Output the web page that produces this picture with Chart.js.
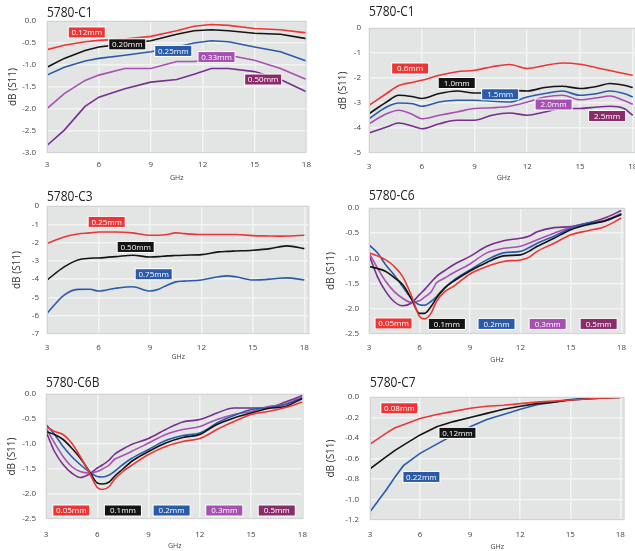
<!DOCTYPE html>
<html>
<head>
<meta charset="utf-8">
<script src="https://cdn.jsdelivr.net/npm/chart.js@4.4.1/dist/chart.umd.min.js"></script>
<style>
html,body{margin:0;padding:0;background:#fff;overflow:hidden;width:635px;height:551px;}
canvas{position:absolute;}
</style>
</head>
<body>
<canvas id="p1" width="318" height="185" style="left:0;top:0"></canvas>
<canvas id="p2" width="332" height="185" style="left:318px;top:0"></canvas>
<canvas id="p3" width="318" height="180" style="left:0;top:185px"></canvas>
<canvas id="p4" width="317" height="180" style="left:318px;top:185px"></canvas>
<canvas id="p5" width="318" height="186" style="left:0;top:365px"></canvas>
<canvas id="p6" width="317" height="186" style="left:318px;top:365px"></canvas>
<script>
// x ticks (GHz) shared by all panels
const xTicks = [3, 6, 9, 12, 15, 18];

// 5780-C1 (left)
const c1Freq = [3, 4, 5.2, 6, 7.5, 9, 10.5, 11.5, 12.5, 13.5, 15, 16.5, 18];
const c1_012 = [-0.65, -0.55, -0.47, -0.44, -0.41, -0.35, -0.22, -0.12, -0.08, -0.1, -0.17, -0.2, -0.27];
const c1_020 = [-1.05, -0.85, -0.67, -0.59, -0.52, -0.45, -0.3, -0.22, -0.2, -0.22, -0.28, -0.3, -0.4];
const c1_025 = [-1.23, -1.05, -0.91, -0.85, -0.78, -0.7, -0.59, -0.5, -0.45, -0.47, -0.59, -0.7, -0.91];
const c1_033 = [-1.99, -1.65, -1.35, -1.23, -1.08, -1.08, -0.92, -0.92, -0.88, -0.78, -0.89, -1.08, -1.33];
const c1_050 = [-2.83, -2.48, -1.94, -1.73, -1.54, -1.39, -1.33, -1.21, -1.08, -1.08, -1.15, -1.33, -1.61];
const c1Ticks = [0, -0.5, -1, -1.5, -2, -2.5, -3];

// 5780-C1 (right)
const c1bFreq = [3, 4, 4.7, 5.5, 6, 7, 8, 9, 10, 11, 12, 13, 14, 15, 16, 16.7, 17.5, 18];
const c1b_06 = [-3.09, -2.62, -2.3, -2.17, -2.09, -1.89, -1.75, -1.69, -1.55, -1.46, -1.62, -1.5, -1.4, -1.45, -1.6, -1.7, -1.82, -1.89];
const c1b_10 = [-3.43, -2.96, -2.69, -2.75, -2.82, -2.62, -2.52, -2.6, -2.6, -2.49, -2.52, -2.38, -2.33, -2.42, -2.33, -2.22, -2.29, -2.38];
const c1b_15 = [-3.63, -3.16, -3.0, -3.03, -3.13, -2.96, -2.89, -2.89, -2.93, -2.96, -2.76, -2.62, -2.52, -2.69, -2.62, -2.52, -2.62, -2.76];
const c1b_20 = [-3.83, -3.43, -3.29, -3.47, -3.63, -3.49, -3.36, -3.22, -3.19, -3.13, -2.96, -2.76, -2.69, -2.87, -2.79, -2.72, -2.9, -3.05];
const c1b_25 = [-4.2, -3.96, -3.8, -3.93, -4.03, -3.83, -3.69, -3.69, -3.49, -3.4, -3.49, -3.36, -3.22, -3.22, -3.16, -3.13, -3.22, -3.49];
const c1bTicks = [0, -1, -2, -3, -4, -5];

// 5780-C3
const c3Freq = [3, 4, 4.8, 5.5, 6, 7, 8, 9, 9.5, 10, 10.5, 11, 12, 13, 13.5, 14, 15, 16, 16.5, 17, 18];
const c3_025 = [-2.05, -1.69, -1.53, -1.47, -1.42, -1.42, -1.47, -1.6, -1.6, -1.56, -1.47, -1.51, -1.56, -1.56, -1.56, -1.56, -1.62, -1.64, -1.65, -1.64, -1.6];
const c3_050 = [-4.05, -3.33, -2.95, -2.86, -2.84, -2.77, -2.69, -2.79, -2.77, -2.73, -2.71, -2.69, -2.66, -2.51, -2.48, -2.46, -2.42, -2.33, -2.24, -2.18, -2.33];
const c3_075 = [-5.87, -4.87, -4.56, -4.55, -4.65, -4.5, -4.42, -4.65, -4.55, -4.33, -4.15, -4.11, -4.05, -3.87, -3.82, -3.87, -4.05, -4.0, -3.95, -3.93, -4.05];
const c3Ticks = [0, -1, -2, -3, -4, -5, -6, -7];

// 5780-C6
const c6Freq = [3, 3.5, 4, 4.5, 5, 5.5, 6, 6.3, 6.7, 7, 7.5, 8, 9, 10, 11, 12, 12.5, 13, 14, 15, 16, 17, 18];
const c6_005 = [-0.89, -0.95, -1.03, -1.16, -1.36, -1.72, -2.15, -2.2, -2.08, -1.86, -1.66, -1.56, -1.31, -1.16, -1.06, -1.03, -0.98, -0.86, -0.7, -0.53, -0.45, -0.37, -0.2];
const c6_01 = [-1.16, -1.2, -1.26, -1.38, -1.52, -1.79, -2.09, -2.09, -1.95, -1.79, -1.59, -1.46, -1.25, -1.08, -0.95, -0.93, -0.86, -0.76, -0.6, -0.43, -0.33, -0.26, -0.13];
const c6_02 = [-0.73, -0.89, -1.13, -1.33, -1.56, -1.79, -1.92, -1.93, -1.85, -1.76, -1.58, -1.44, -1.23, -1.03, -0.89, -0.86, -0.79, -0.7, -0.56, -0.4, -0.3, -0.26, -0.12];
const c6_03 = [-0.89, -1.19, -1.46, -1.66, -1.79, -1.87, -1.84, -1.77, -1.66, -1.49, -1.39, -1.29, -1.11, -0.89, -0.8, -0.76, -0.7, -0.63, -0.5, -0.38, -0.3, -0.25, -0.11];
const c6_05 = [-0.93, -1.36, -1.66, -1.86, -1.94, -1.89, -1.72, -1.62, -1.47, -1.36, -1.24, -1.13, -0.96, -0.76, -0.65, -0.6, -0.56, -0.47, -0.39, -0.37, -0.3, -0.2, -0.05];
const c6Ticks = [0, -0.5, -1, -1.5, -2, -2.5];

// 5780-C6B
const c6bFreq = [3, 3.5, 4, 4.5, 5, 5.5, 6, 6.3, 6.7, 7, 7.5, 8, 9, 10, 11, 12, 12.5, 13, 14, 15, 16, 17, 18];
const c6b_005 = [-0.65, -0.75, -0.81, -0.98, -1.25, -1.55, -1.87, -1.91, -1.85, -1.71, -1.55, -1.43, -1.21, -1.05, -0.95, -0.89, -0.81, -0.71, -0.55, -0.41, -0.35, -0.27, -0.16];
const c6b_01 = [-0.75, -0.81, -0.91, -1.08, -1.28, -1.53, -1.78, -1.8, -1.76, -1.65, -1.5, -1.35, -1.15, -0.98, -0.87, -0.81, -0.71, -0.61, -0.48, -0.38, -0.29, -0.25, -0.09];
const c6b_02 = [-0.61, -0.81, -1.05, -1.25, -1.41, -1.55, -1.65, -1.66, -1.62, -1.55, -1.41, -1.29, -1.11, -0.93, -0.83, -0.78, -0.69, -0.58, -0.43, -0.31, -0.28, -0.21, -0.08];
const c6b_03 = [-0.68, -0.98, -1.25, -1.45, -1.55, -1.58, -1.55, -1.5, -1.42, -1.31, -1.23, -1.15, -0.98, -0.81, -0.71, -0.65, -0.58, -0.51, -0.41, -0.35, -0.25, -0.2, -0.05];
const c6b_05 = [-0.75, -1.15, -1.41, -1.58, -1.67, -1.61, -1.48, -1.42, -1.32, -1.21, -1.1, -1.01, -0.89, -0.71, -0.56, -0.51, -0.45, -0.38, -0.28, -0.28, -0.27, -0.16, -0.03];
const c6bTicks = [0, -0.5, -1, -1.5, -2, -2.5];

// 5780-C7
const c7Freq = [3, 4, 4.5, 5, 6, 7, 8, 9, 10, 11, 12, 13, 14, 15, 16, 17, 18];
const c7_008 = [-0.46, -0.35, -0.3, -0.27, -0.21, -0.17, -0.14, -0.11, -0.09, -0.08, -0.065, -0.05, -0.04, -0.03, -0.02, -0.01, -0.005];
const c7_012 = [-0.7, -0.58, -0.52, -0.47, -0.37, -0.29, -0.24, -0.2, -0.16, -0.12, -0.09, -0.065, -0.05, -0.03, -0.02, -0.01, -0.005];
const c7_022 = [-1.12, -0.9, -0.78, -0.67, -0.55, -0.46, -0.37, -0.29, -0.22, -0.17, -0.12, -0.075, -0.05, -0.025, -0.01, -0.005, 0];
const c7Ticks = [0, -0.2, -0.4, -0.6, -0.8, -1.0, -1.2];

const RED = '#ee3535', BLACK = '#141414', BLUE = '#2b5ba8', LILAC = '#a650b2', PURPLE = '#772e8c', PLUM = '#8b2c6a';

const panelDeco = {
	id: 'panelDeco',
	beforeDraw(chart, args, opts){
		let a = chart.chartArea, ctx = chart.ctx;
		ctx.save();
		ctx.fillStyle = '#e3e5e5';
		ctx.fillRect(a.left, a.top, a.right - a.left, a.bottom - a.top);
		ctx.restore();
	},
	afterDraw(chart, args, opts){
		let ctx = chart.ctx, a = chart.chartArea;
		let xs = chart.scales.x, ys = chart.scales.y;
		ctx.save();
		ctx.strokeStyle = '#d2d4d4';
		ctx.lineWidth = 1;
		ctx.strokeRect(a.left + 0.5, a.top + 0.5, a.right - a.left - 1, a.bottom - a.top - 1);
		// condensed panel title
		ctx.save();
		ctx.translate(a.left, opts.titleY);
		ctx.scale(0.8, 1);
		ctx.font = '15px "Open Sans"';
		ctx.fillStyle = '#222';
		ctx.textAlign = 'left';
		ctx.textBaseline = 'alphabetic';
		ctx.fillText(opts.title, 0, 0);
		ctx.restore();
		ctx.font = '8px "Open Sans"';
		ctx.textAlign = 'center';
		ctx.textBaseline = 'middle';
		opts.tags.forEach(function(t){
			let px = xs.getPixelForValue(t.x), py = ys.getPixelForValue(t.y);
			ctx.fillStyle = '#fff';
			ctx.fillRect(px - 19, py - 6, 38, 12);
			ctx.fillStyle = t.c;
			ctx.fillRect(px - 18, py - 5, 36, 10);
			ctx.fillStyle = '#fff';
			ctx.fillText(t.t, px, py + 0.5);
		});
		ctx.restore();
	}
};

function makePanel(p){
	let canvas = document.getElementById(p.id);
	let W = canvas.width, H = canvas.height;
	let datasets = [];
	for(let i = 0; i < p.series.length; i++){
		let s = p.series[i];
		let pts = [];
		for(let j = 0; j < p.freq.length; j++){
			pts.push({x: p.freq[j], y: s.data[j]});
		}
		datasets.push({
			label: s.name,
			data: pts,
			borderColor: s.color,
			borderWidth: 1.6,
			pointRadius: 0,
			tension: p.smooth ? 0.4 : 0,
			cubicInterpolationMode: p.smooth ? 'monotone' : 'default'
		});
	}
	let tickFont = {family: 'Open Sans', size: 8};
	new Chart(canvas, {
		type: 'line',
		data: {datasets: datasets},
		options: {
			responsive: false,
			animation: false,
			layout: {padding: {left: 0, top: p.area[1], right: W - p.area[2], bottom: 0}},
			plugins: {
				legend: {display: false},
				tooltip: {enabled: false},
				panelDeco: {title: p.title, titleY: p.titleY, tags: p.tags}
			},
			scales: {
				x: {
					type: 'linear',
					min: 3,
					max: p.xMax,
					afterBuildTicks: function(axis){ axis.ticks = xTicks.map(v => ({value: v})); },
					afterFit: function(axis){ axis.height = H - p.area[3]; },
					grid: {color: '#f3f3f3', lineWidth: 1.5, drawTicks: false},
					border: {display: false},
					ticks: {font: tickFont, color: '#444', padding: p.xTickPad, maxRotation: 0, autoSkip: false},
					title: {display: true, text: 'GHz', font: {family: 'Open Sans', size: 7}, color: '#444', padding: {top: 0, bottom: p.xTitlePad}}
				},
				y: {
					min: p.yTicks[p.yTicks.length - 1],
					max: 0,
					afterBuildTicks: function(axis){ axis.ticks = p.yTicks.map(v => ({value: v})); },
					afterFit: function(axis){ axis.width = p.area[0]; },
					grid: {color: '#f3f3f3', lineWidth: 1.5, drawTicks: false},
					border: {display: false},
					ticks: {
						font: tickFont, color: '#444', padding: p.yTickPad,
						callback: function(v){ return p.decimals ? Number(v).toFixed(p.decimals) : String(v); }
					},
					title: {display: true, text: 'dB (S11)', font: {family: 'Open Sans', size: 10}, color: '#333', padding: {top: p.yTitlePad, bottom: 0}}
				}
			}
		},
		plugins: [panelDeco]
	});
}

makePanel({
	id: 'p1', title: '5780-C1', titleY: 17, area: [47, 21, 311, 153], xMax: 18, yTicks: c1Ticks, decimals: 1,
	xTickPad: 7, xTitlePad: 3, yTickPad: 11, yTitlePad: 7, smooth: false, freq: c1Freq,
	series: [
		{name: '0.12mm', data: c1_012, color: RED},
		{name: '0.20mm', data: c1_020, color: BLACK},
		{name: '0.25mm', data: c1_025, color: BLUE},
		{name: '0.33mm', data: c1_033, color: LILAC},
		{name: '0.50mm', data: c1_050, color: PURPLE}
	],
	tags: [
		{t: '0.12mm', x: 5.3, y: -0.26, c: RED},
		{t: '0.20mm', x: 7.64, y: -0.53, c: BLACK},
		{t: '0.25mm', x: 10.3, y: -0.68, c: BLUE},
		{t: '0.33mm', x: 12.8, y: -0.82, c: LILAC},
		{t: '0.50mm', x: 15.5, y: -1.33, c: PLUM}
	]
});

makePanel({
	id: 'p2', title: '5780-C1', titleY: 16, area: [51, 28, 320, 153], xMax: 18.3, yTicks: c1bTicks, decimals: 0,
	xTickPad: 9, xTitlePad: 3, yTickPad: 8, yTitlePad: 19, smooth: true, freq: c1bFreq,
	series: [
		{name: '0.6mm', data: c1b_06, color: RED},
		{name: '1.0mm', data: c1b_10, color: BLACK},
		{name: '1.5mm', data: c1b_15, color: BLUE},
		{name: '2.0mm', data: c1b_20, color: LILAC},
		{name: '2.5mm', data: c1b_25, color: PURPLE}
	],
	tags: [
		{t: '0.6mm', x: 5.34, y: -1.62, c: RED},
		{t: '1.0mm', x: 7.99, y: -2.2, c: BLACK},
		{t: '1.5mm', x: 10.46, y: -2.65, c: BLUE},
		{t: '2.0mm', x: 13.5, y: -3.06, c: LILAC},
		{t: '2.5mm', x: 16.54, y: -3.52, c: PLUM}
	]
});

makePanel({
	id: 'p3', title: '5780-C3', titleY: 16, area: [47, 21, 313, 149], xMax: 18.29, yTicks: c3Ticks, decimals: 0,
	xTickPad: 9, xTitlePad: 4, yTickPad: 8, yTitlePad: 11, smooth: true, freq: c3Freq,
	series: [
		{name: '0.25mm', data: c3_025, color: RED},
		{name: '0.50mm', data: c3_050, color: BLACK},
		{name: '0.75mm', data: c3_075, color: BLUE}
	],
	tags: [
		{t: '0.25mm', x: 6.48, y: -0.87, c: RED},
		{t: '0.50mm', x: 8.17, y: -2.24, c: BLACK},
		{t: '0.75mm', x: 9.22, y: -3.73, c: BLUE}
	]
});

makePanel({
	id: 'p4', title: '5780-C6', titleY: 15, area: [51, 23, 314, 149], xMax: 18.23, yTicks: c6Ticks, decimals: 1,
	xTickPad: 9, xTitlePad: 1, yTickPad: 10, yTitlePad: 7, smooth: true, freq: c6Freq,
	series: [
		{name: '0.05mm', data: c6_005, color: RED},
		{name: '0.1mm', data: c6_01, color: BLACK},
		{name: '0.2mm', data: c6_02, color: BLUE},
		{name: '0.3mm', data: c6_03, color: LILAC},
		{name: '0.5mm', data: c6_05, color: PURPLE}
	],
	tags: [
		{t: '0.05mm', x: 4.46, y: -2.29, c: RED},
		{t: '0.1mm', x: 7.63, y: -2.3, c: BLACK},
		{t: '0.2mm', x: 10.58, y: -2.3, c: BLUE},
		{t: '0.3mm', x: 13.62, y: -2.3, c: LILAC},
		{t: '0.5mm', x: 16.65, y: -2.3, c: PLUM}
	]
});

makePanel({
	id: 'p5', title: '5780-C6B', titleY: 22, area: [46, 29, 307, 154], xMax: 18.06, yTicks: c6bTicks, decimals: 1,
	xTickPad: 11, xTitlePad: 1, yTickPad: 10, yTitlePad: 6, smooth: true, freq: c6bFreq,
	series: [
		{name: '0.05mm', data: c6b_005, color: RED},
		{name: '0.1mm', data: c6b_01, color: BLACK},
		{name: '0.2mm', data: c6b_02, color: BLUE},
		{name: '0.3mm', data: c6b_03, color: LILAC},
		{name: '0.5mm', data: c6b_05, color: PURPLE}
	],
	tags: [
		{t: '0.05mm', x: 4.48, y: -2.33, c: RED},
		{t: '0.1mm', x: 7.5, y: -2.33, c: BLACK},
		{t: '0.2mm', x: 10.35, y: -2.33, c: BLUE},
		{t: '0.3mm', x: 13.43, y: -2.33, c: LILAC},
		{t: '0.5mm', x: 16.5, y: -2.33, c: PLUM}
	]
});

makePanel({
	id: 'p6', title: '5780-C7', titleY: 22, area: [52, 32, 311, 155], xMax: 18.25, yTicks: c7Ticks, decimals: 1,
	xTickPad: 10, xTitlePad: 0, yTickPad: 11, yTitlePad: 7, smooth: false, freq: c7Freq,
	series: [
		{name: '0.08mm', data: c7_008, color: RED},
		{name: '0.12mm', data: c7_012, color: BLACK},
		{name: '0.22mm', data: c7_022, color: BLUE}
	],
	tags: [
		{t: '0.08mm', x: 4.76, y: -0.11, c: RED},
		{t: '0.12mm', x: 8.24, y: -0.35, c: BLACK},
		{t: '0.22mm', x: 6.08, y: -0.78, c: BLUE}
	]
});
</script>
</body>
</html>
